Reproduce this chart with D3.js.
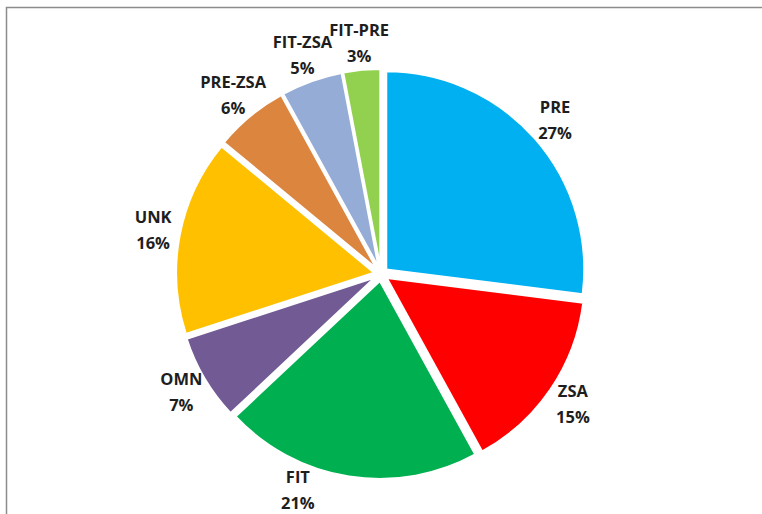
<!DOCTYPE html>
<html>
<head>
<meta charset="utf-8">
<script src="https://cdn.jsdelivr.net/npm/d3@7"></script>
<style>
  body { margin: 0; background: #fff; }
  svg { display: block; }
</style>
</head>
<body>
<div id="chart"></div>
<script>
// data
var categories = ["PRE", "ZSA", "FIT", "OMN", "UNK", "PRE-ZSA", "FIT-ZSA", "FIT-PRE"];
var shares     = [27, 15, 21, 7, 16, 6, 5, 3];
var colors     = ["#00b0f0", "#ff0000", "#00b050", "#725a94", "#ffc000", "#dc853f", "#95acd6", "#92d050"];

var width = 762, height = 514;
var cx = 381, cy = 274;
var radius = 198;
var explode = 7;
var labelR = 232;

var svg = d3.select("#chart").append("svg")
    .attr("width", width)
    .attr("height", height);

// frame (only top and left show inside the picture)
svg.append("rect")
    .attr("x", 6.5).attr("y", 7.5)
    .attr("width", 900).attr("height", 700)
    .style("fill", "none")
    .style("stroke", "#8c8c8c")
    .style("stroke-width", 1.5);

var data = categories.map(function(c, i){ return {name: c, value: shares[i], color: colors[i]}; });

var pie = d3.pie().sort(null).value(function(d){ return d.value; });
var arcs = pie(data);

var arc = d3.arc().innerRadius(0).outerRadius(radius);

var g = svg.append("g").attr("transform", "translate(" + cx + "," + cy + ")");

function mid(d){ return (d.startAngle + d.endAngle) / 2; }

g.selectAll("path.slice")
  .data(arcs)
  .enter().append("path")
    .attr("class", "slice")
    .attr("d", arc)
    .attr("transform", function(d){
      var a = mid(d);
      return "translate(" + (Math.sin(a)*explode) + "," + (-Math.cos(a)*explode) + ")";
    })
    .style("fill", function(d){ return d.data.color; })
    .style("stroke", "#fff")
    .style("stroke-width", 2)
    .style("stroke-linejoin", "round");

// label position: on the bisector, slid round the circle if it would fall off the bottom
function labelPos(d){
  var a = mid(d);
  var step = Math.PI / 360;
  var dirn = a > Math.PI ? 1 : -1;
  var y = -Math.cos(a) * labelR;
  var n = 0;
  while (cy + y > height - 23 && n < 200) {
    a += dirn * step;
    y = -Math.cos(a) * labelR;
    n++;
  }
  return [Math.sin(a) * labelR, y];
}

var labels = g.selectAll("g.lbl")
  .data(arcs)
  .enter().append("g")
    .attr("class", "lbl")
    .attr("transform", function(d){
      var p = labelPos(d);
      return "translate(" + p[0] + "," + p[1] + ")";
    });

labels.append("text")
    .attr("y", -13)
    .attr("dy", "0.35em")
    .style("text-anchor", "middle")
    .style("font-family", "'Open Sans', sans-serif")
    .style("font-weight", 700)
    .style("font-size", "16.5px")
    .style("fill", "#1e1e1e")
    .text(function(d){ return d.data.name; });

labels.append("text")
    .attr("y", 13)
    .attr("dy", "0.35em")
    .style("text-anchor", "middle")
    .style("font-family", "'Open Sans', sans-serif")
    .style("font-weight", 700)
    .style("font-size", "16.5px")
    .style("fill", "#1e1e1e")
    .text(function(d){ return d.data.value + "%"; });
</script>
</body>
</html>
